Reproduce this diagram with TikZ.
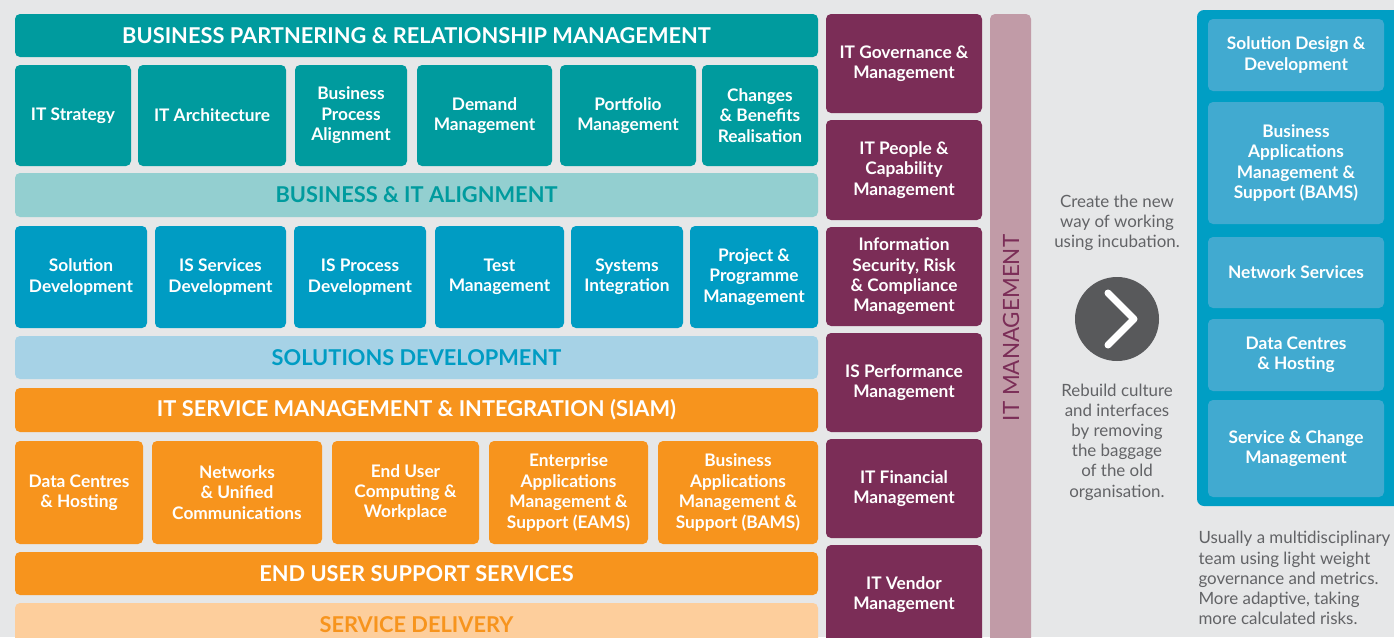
\documentclass[tikz,border=0pt]{standalone}
\usepackage{fontspec}
\setmainfont{Lato}
\usepackage{tikz}
\usetikzlibrary{calc,positioning}

\definecolor{bgc}{HTML}{E6E7E8}
\definecolor{tealc}{HTML}{009B9E}
\definecolor{tealband}{HTML}{93CFD0}
\definecolor{bluec}{HTML}{009CC3}
\definecolor{blueband}{HTML}{A6D2E6}
\definecolor{orangec}{HTML}{F7941D}
\definecolor{orangeband}{HTML}{FDCE9C}
\definecolor{purplec}{HTML}{7B2D57}
\definecolor{mauvec}{HTML}{C19BA7}
\definecolor{darkc}{HTML}{58595B}
\definecolor{greytext}{HTML}{626366}
\definecolor{panelc}{HTML}{009EC4}
\definecolor{panelin}{HTML}{41AAD0}

\begin{document}
\begin{tikzpicture}[
    x=1pt, y=-1pt,
    box/.style={
      anchor=north west, rounded corners=5pt,
      inner sep=0pt, outer sep=0pt,
      text=white, align=center,
      font=\bfseries\fontsize{17.3}{20.4}\selectfont
    },
    band/.style={box, font=\bfseries\fontsize{21.8}{24}\selectfont},
    tealbox/.style={box, fill=tealc},
    bluebox/.style={box, fill=bluec},
    orangebox/.style={box, fill=orangec},
    purplebox/.style={box, fill=purplec, minimum width=156pt},
    panelbox/.style={box, fill=panelin, minimum width=176pt},
    note/.style={text=greytext, align=center,
      font=\fontsize{16.9}{20.2}\selectfont}
  ]

  % Canvas
  \useasboundingbox (0,0) rectangle (1394,637);
  \clip (0,0) rectangle (1394,637);
  \fill[bgc] (0,0) rectangle (1394,637);

  % Business partnering layer
  \node[band, fill=tealc, minimum width=803pt, minimum height=43pt] (bprm) at (15,14)
    {BUSINESS PARTNERING \& RELATIONSHIP MANAGEMENT};
  \node[tealbox, minimum width=116pt, minimum height=101pt] (strat) at (15,65) {IT Strategy};
  \node[tealbox, minimum width=148pt, minimum height=101pt] (arch) at (138,65) {IT Architecture};
  \node[tealbox, minimum width=112pt, minimum height=101pt] (bpa) at (295,65) {Business\\Process\\Alignment};
  \node[tealbox, minimum width=135pt, minimum height=101pt] (demand) at (417,65) {Demand\\Management};
  \node[tealbox, minimum width=136pt, minimum height=101pt] (portf) at (560,65) {Portfolio\\Management};
  \node[tealbox, minimum width=116pt, minimum height=101pt] (benef) at (702,65) {Changes\\\& Benefits\\Realisation};
  \node[band, fill=tealband, text=tealc, minimum width=803pt, minimum height=44pt] (bita) at (15,173)
    {BUSINESS \& IT ALIGNMENT};

  % Solutions layer
  \node[bluebox, minimum width=132pt, minimum height=102pt] (soldev) at (15,226) {Solution\\Development};
  \node[bluebox, minimum width=131pt, minimum height=102pt] (issd) at (155,226) {IS Services\\Development};
  \node[bluebox, minimum width=132pt, minimum height=102pt] (ispd) at (294,226) {IS Process\\Development};
  \node[bluebox, minimum width=129pt, minimum height=102pt] (test) at (435,226) {Test\\Management};
  \node[bluebox, minimum width=112pt, minimum height=102pt] (sysint) at (571,226) {Systems\\Integration};
  \node[bluebox, minimum width=128pt, minimum height=102pt] (ppm) at (690,226) {Project \&\\Programme\\Management};
  \node[band, fill=blueband, text=bluec, minimum width=803pt, minimum height=43pt] (sold) at (15,336)
    {SOLUTIONS DEVELOPMENT};

  % Service delivery layer
  \node[band, fill=orangec, minimum width=803pt, minimum height=44pt] (siam) at (15,388)
    {IT SERVICE MANAGEMENT \& INTEGRATION (SIAM)};
  \node[orangebox, minimum width=128pt, minimum height=103pt] (dch) at (15,441) {Data Centres\\\& Hosting};
  \node[orangebox, minimum width=170pt, minimum height=103pt] (nuc) at (152,441) {Networks\\\& Unified\\Communications};
  \node[orangebox, minimum width=147pt, minimum height=103pt] (euc) at (332,441) {End User\\Computing \&\\Workplace};
  \node[orangebox, minimum width=159pt, minimum height=103pt] (eams) at (489,441)
    {Enterprise\\Applications\\Management \&\\Support (EAMS)};
  \node[orangebox, minimum width=160pt, minimum height=103pt] (bams) at (658,441)
    {Business\\Applications\\Management \&\\Support (BAMS)};
  \node[band, fill=orangec, minimum width=803pt, minimum height=43pt] (euss) at (15,552)
    {END USER SUPPORT SERVICES};
  \node[band, fill=orangeband, text=orangec, minimum width=803pt, minimum height=43pt] (sdel) at (15,603)
    {SERVICE DELIVERY};

  % IT management column
  \node[purplebox, minimum height=99pt] (gov) at (826,14) {IT Governance \&\\Management};
  \node[purplebox, minimum height=100pt] (people) at (826,120) {IT People \&\\Capability\\Management};
  \node[purplebox, minimum height=99pt] (isrc) at (826,227)
    {Information\\Security, Risk\\\& Compliance\\Management};
  \node[purplebox, minimum height=99pt] (perf) at (826,333) {IS Performance\\Management};
  \node[purplebox, minimum height=99pt] (fin) at (826,439) {IT Financial\\Management};
  \node[purplebox, minimum height=99pt] (vendor) at (826,545) {IT Vendor\\Management};
  \fill[mauvec, rounded corners=5pt] (990,14) rectangle (1031,660);
  \node[text=purplec, rotate=90, font=\fontsize{22.4}{24}\selectfont] (itm) at (1011,328) {IT MANAGEMENT};

  % Incubation step
  \node[note] (create) at (1117,223) {Create the new\\way of working\\using incubation.};
  \node[circle, fill=darkc, minimum size=84pt, inner sep=0pt] (go) at (1117,319) {};
  \draw[white, line width=7pt, line cap=round, line join=round]
    ($(go)+(-9,-26)$) -- ($(go)+(17,0)$) -- ($(go)+(-9,26)$);
  \node[note] (rebuild) at (1117,442) {Rebuild culture\\and interfaces\\by removing\\the baggage\\of the old\\organisation.};

  % Incubated team
  \fill[panelc, rounded corners=7pt] (1197,10) rectangle (1410,506);
  \node[panelbox, minimum height=72pt] (sdd) at (1208,19) {Solution Design \&\\Development};
  \node[panelbox, minimum height=122pt] (pbams) at (1208,102)
    {Business\\Applications\\Management \&\\Support (BAMS)};
  \node[panelbox, minimum height=71pt] (net) at (1208,237) {Network Services};
  \node[panelbox, minimum height=72pt] (pdch) at (1208,319) {Data Centres\\\& Hosting};
  \node[panelbox, minimum height=97pt] (scm) at (1208,400) {Service \& Change\\Management};
  \node[note, align=left, anchor=north west] (usual) at (1195,528)
    {Usually a multidisciplinary\\team using light weight\\governance and metrics.\\More adaptive, taking\\more calculated risks.};

\end{tikzpicture}
\end{document}
